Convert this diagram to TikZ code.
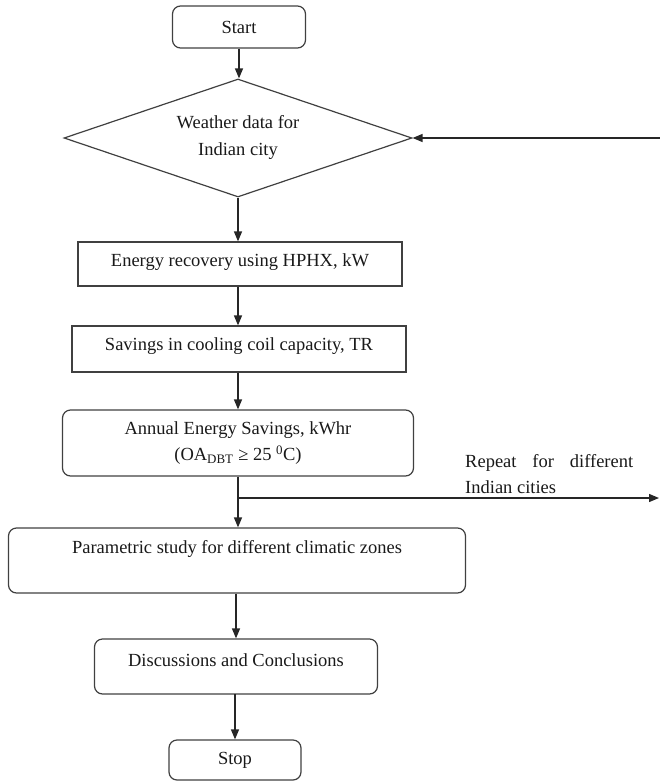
\documentclass[tikz,border=0pt]{standalone}
\usepackage{fontspec}
\setmainfont{Liberation Serif}
\usetikzlibrary{shapes.geometric,arrows.meta,calc}
\begin{document}
\begin{tikzpicture}[x=1pt,y=-1pt,
  every node/.style={font=\fontsize{18.5pt}{26pt}\selectfont, text=black!90},
  box/.style={draw=black!75, line width=1.2pt, inner sep=0pt, align=center},
  rbox/.style={box, rounded corners=8pt},
  dbox/.style={draw=black!75, line width=1.2pt, diamond, aspect=2.9, inner sep=0pt, align=center},
  arr/.style={draw=black!85, line width=1.3pt, -{Triangle[length=10pt,width=8pt]}},
  lbl/.style={inner sep=0pt, align=left}]
\useasboundingbox (0,0) rectangle (660,782);

\node[rbox, minimum width=133pt, minimum height=42pt] (start) at (239,27) {Start};
\node[dbox, minimum width=348pt, minimum height=118pt] (weather) at (238,138) {\raisebox{1pt}[\height][\depth]{Weather data for}\\Indian city};
\node[box, minimum width=324pt, minimum height=44pt] (rec) at (240,264) {\raisebox{2pt}[\height][\depth]{Energy recovery using HPHX, kW}};
\node[box, minimum width=334pt, minimum height=46pt] (sav) at (239,349) {\raisebox{3pt}[\height][\depth]{Savings in cooling coil capacity, TR}};
\node[rbox, minimum width=351pt, minimum height=66pt] (ann) at (238,443) {Annual Energy Savings, kWhr\\(OA\textsubscript{DBT} ≥ 25 \textsuperscript{0}C)};
\node[rbox, minimum width=457pt, minimum height=65pt] (par) at (237,560.5) {\raisebox{12pt}[\height][\depth]{Parametric study for different climatic zones}};
\node[rbox, minimum width=283pt, minimum height=55pt] (dis) at (236,666.5) {\raisebox{6.5pt}[\height][\depth]{Discussions and Conclusions}};
\node[rbox, minimum width=132pt, minimum height=40pt] (stop) at (235,760) {Stop};

\node[lbl, anchor=west] (rep) at (465,474.5) {\makebox[168pt][s]{Repeat for different}\\Indian cities};

\coordinate (rin) at (661,138);
\coordinate (br) at (ann.south |- 0,498);
\coordinate (rout) at (659,498);

\draw[arr] (start.south) -- (start.south |- weather.north);
\draw[arr] (weather.south) -- (weather.south |- rec.north);
\draw[arr] (rec.south -| weather.south) -- (weather.south |- sav.north);
\draw[arr] (sav.south -| ann.north) -- (ann.north);
\draw[arr] (ann.south) -- (ann.south |- par.north);
\draw[arr] (br) -- (rout);
\draw[arr] (rin) -- (weather.east);
\draw[arr] (dis.north |- par.south) -- (dis.north);
\draw[arr] (dis.south) -- (dis.south -| stop.north) -- (stop.north);
\end{tikzpicture}
\end{document}
